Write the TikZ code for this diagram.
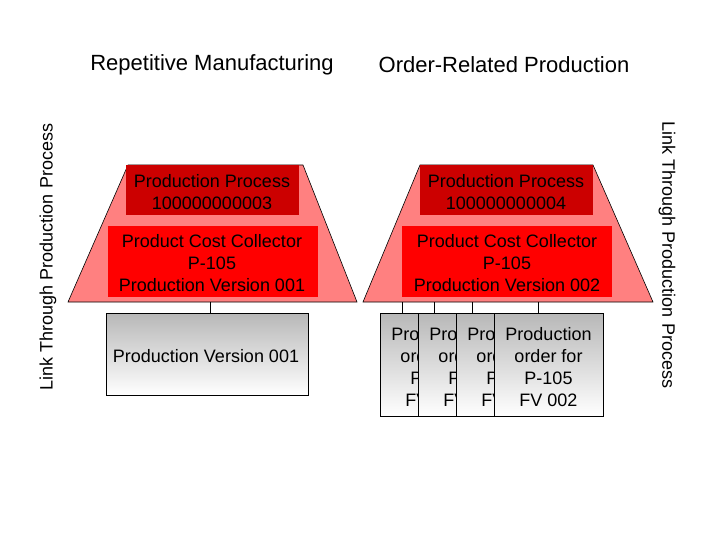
\documentclass[tikz,border=0pt]{standalone}
\usepackage{fontspec}
\setmainfont{Liberation Sans}
\begin{document}
\begin{tikzpicture}[x=1pt,y=-1pt,
  txt/.style={font=\fontsize{18}{22}\selectfont,align=center},
  trap/.style={fill={rgb,255:red,255;green,128;blue,128},draw=black,line width=0.6pt},
  dark/.style={fill={rgb,255:red,204;green,0;blue,0},draw=none},
  red/.style={fill={rgb,255:red,255;green,0;blue,0},draw=none},
  gbox/.style={draw=black,line width=0.6pt,top color=black!28,bottom color=white},
  link/.style={draw=black,line width=0.6pt}]
\useasboundingbox (0,0) rectangle (720,540);
\node[font=\fontsize{22}{26}\selectfont] (t1) at (212,65) {Repetitive Manufacturing};
\node[font=\fontsize{22}{26}\selectfont] (t2) at (504,65) {Order-Related Production};
\node[txt,rotate=90] (s1) at (48,257) {Link Through Production Process};
\node[txt,rotate=-90] (s2) at (667,255) {Link Through Production Process};
% left
\draw[trap] (128,165) -- (303,165) -- (357,302) -- (68,302) -- cycle;
\fill[dark] (126,165) rectangle (299,215);
\node[txt] (pp1) at (212,192) {Production Process\\100000000003};
\fill[red] (108,226) rectangle (318,297);
\node[txt] (pc1) at (212,263) {Product Cost Collector\\P-105\\Production Version 001};
\draw[gbox] (106,313) rectangle (308,395);
\node[txt] (pv1) at (206,356) {Production Version 001};
\coordinate (c1) at (210,302);
\draw[link] (c1) -- (210,313);
% right
\draw[trap] (420,165) -- (593,165) -- (653,302) -- (363,302) -- cycle;
\fill[dark] (420,165) rectangle (593,215);
\node[txt] (pp2) at (506,192) {Production Process\\100000000004};
\fill[red] (402,226) rectangle (612,297);
\node[txt] (pc2) at (507,263) {Product Cost Collector\\P-105\\Production Version 002};
\foreach \x/\c/\w [count=\i] in {380/402/38,418/434/38,456/472/38,494/538/109}{
  \draw[link] (\c,302) -- (\c,313);
  \draw[gbox] (\x,313) rectangle (\x+109,416);
  \begin{scope}
  \clip (\x,313) rectangle (\x+\w,416);
  \node[txt] (po\i) at (\x+54.5,367) {Production\\order for\\P-105\\FV 002};
  \end{scope}
}
\end{tikzpicture}
\end{document}
